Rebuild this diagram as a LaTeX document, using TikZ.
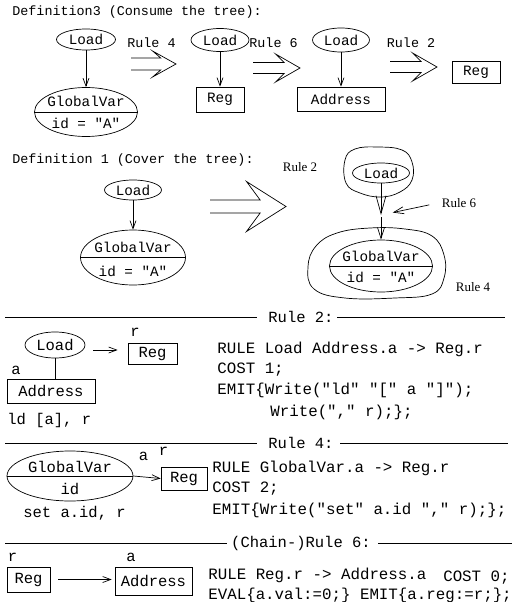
\documentclass[tikz,border=0pt]{standalone}
\usepackage{fontspec}
\setmainfont{Liberation Serif}
\setmonofont{Liberation Mono}
\usetikzlibrary{shapes.geometric,arrows.meta}

% flecha hueca: x0, yc, largo, media cabeza, medio cuerpo
\newcommand{\hollowarrow}[5]{%
  \draw (#1,#2-#5) -- (#1+0.66*#3,#2-#5) -- (#1+0.48*#3,#2-#4) -- (#1+#3,#2)
    -- (#1+0.48*#3,#2+#4) -- (#1+0.66*#3,#2+#5) -- (#1,#2+#5);}

\begin{document}
\begin{tikzpicture}[x=1pt, y=-1pt, line width=0.7pt,
    ovalnd/.style 2 args={ellipse, draw, inner sep=0pt, minimum width=#1pt, minimum height=#2pt},
    boxnd/.style 2 args={rectangle, draw, inner sep=0pt, minimum width=#1pt, minimum height=#2pt},
    treetxt/.style={font=\ttfamily\fontsize{14.3}{16}\selectfont},
    ruletxt/.style={font=\ttfamily\fontsize{15.5}{18}\selectfont},
    codetxt/.style={font=\ttfamily\fontsize{15.8}{18}\selectfont, anchor=west, inner sep=0pt},
    headtxt/.style={font=\ttfamily\fontsize{13.4}{15}\selectfont, anchor=west, inner sep=0pt},
    seriftxt/.style={font=\fontsize{13}{15}\selectfont},
    arr/.style={-{Straight Barb[length=8pt,width=6pt]}}]
            \useasboundingbox (0,0) rectangle (524,602);

            % Definicion 3
            \node[headtxt] (def3) at (12,12) {Definition3 (Consume the tree):};

            % Arbol 1
            \node[ovalnd={59}{21}, treetxt] (ldA) at (86,39.5) {Load};
            \node[ovalnd={103}{49}] (gvA) at (86,112) {};
            \draw (gvA.west) -- (gvA.east);
            \node[treetxt] (gvAtop) at (86,101) {GlobalVar};
            \node[treetxt] (gvAbot) at (86,123) {id = "A"};
            \draw[arr] (ldA) -- (gvA);

            % Arbol 2
            \node[ovalnd={58}{23}, treetxt] (ldB) at (220,40) {Load};
            \node[boxnd={48}{25}, treetxt] (regA) at (220,99.5) {Reg};
            \draw[arr] (ldB) -- (regA);

            % Arbol 3
            \node[ovalnd={57}{24}, treetxt] (ldC) at (341,40) {Load};
            \node[boxnd={88}{24}, treetxt] (addrA) at (341,99) {Address};
            \draw[arr] (ldC) -- (addrA);

            % Resultado
            \node[boxnd={48}{22}, treetxt] (regB) at (476,72) {Reg};

            % Flechas de reglas
            \hollowarrow{131}{64}{45}{13}{6}
            \hollowarrow{253}{68}{47}{14}{5.5}
            \hollowarrow{390}{67}{47}{14}{5.5}
            \node[headtxt, anchor=center] (rA4) at (151.5,43) {Rule 4};
            \node[headtxt, anchor=center] (rA6) at (273.5,43) {Rule 6};
            \node[headtxt, anchor=center] (rA2) at (411,43) {Rule 2};

            % Definicion 1
            \node[headtxt] (def1) at (12,160) {Definition 1 (Cover the tree):};

            % Arbol original
            \node[ovalnd={57}{20}, treetxt] (ldD) at (133,190) {Load};
            \node[ovalnd={105}{55}] (gvB) at (133,257.5) {};
            \draw (gvB.west) -- (gvB.east);
            \node[treetxt] (gvBtop) at (133,247.5) {GlobalVar};
            \node[treetxt] (gvBbot) at (133,271.5) {id = "A"};
            \draw[arr] (ldD) -- (gvB);

            \hollowarrow{210}{206.5}{76}{25}{6.5}

            % Arbol cubierto
            \node[ovalnd={57}{20}, treetxt] (ldE) at (381,173) {Load};
            \node[ovalnd={103}{52}] (gvC) at (381,266) {};
            \draw (gvC.west) -- (gvC.east);
            \node[treetxt] (gvCtop) at (381,256) {GlobalVar};
            \node[treetxt] (gvCbot) at (381,277) {id = "A"};
            \draw plot[smooth cycle, tension=0.7] coordinates {(345,160) (355,149) (378,147)
              (402,150) (412,162) (412,180) (400,192) (381,197) (360,193) (346,183)};
            \draw plot[smooth cycle, tension=0.7] coordinates {(308,267) (316,246) (337,233)
              (370,228) (405,229) (432,236) (444,255) (444,278) (432,294) (395,298) (345,298) (314,289)};
            \coordinate (gapE) at (381,215);
            \draw[-{Straight Barb[length=18pt,width=10pt]}] (ldE) -- (gapE);
            \draw[-{Straight Barb[length=11pt,width=7pt]}] ([yshift=-2pt]gapE) -- (gvC);
            \node[seriftxt] (sR2) at (300,167) {Rule 2};
            \node[seriftxt] (sR6) at (459,203) {Rule 6};
            \node[seriftxt] (sR4) at (473,287) {Rule 4};
            \draw[-{Straight Barb[length=10pt,width=7pt]}, shorten <=9pt, shorten >=12pt] (sR6.west) -- (gapE);

            % Separadores
            \foreach \y/\xb/\xc/\xd/\titulo in {317/257/337/505/Rule 2:, 443/257/340/508/Rule 4:, 543/227/378/512/{(Chain-)Rule 6:}} {
                \draw (5,\y) -- (\xb,\y);
                \node[ruletxt, inner sep=0pt] (sep\y) at (301,\y) {\titulo};
                \draw (\xc,\y) -- (\xd,\y);
            }

            % Regla 2
            \node[ovalnd={60}{26}, ruletxt] (ldF) at (55,345) {Load};
            \node[boxnd={49}{21}, ruletxt] (regC) at (152.5,353.5) {Reg};
            \node[boxnd={88}{24}, ruletxt] (addrB) at (51,391) {Address};
            \draw (ldF.south) -- (ldF.south |- addrB.north);
            \draw[arr] ([shift={(8,5)}]ldF.east) -- ([shift={(-10,-3.5)}]regC.west);
            \node[ruletxt] (r2r) at (135,332) {r};
            \node[ruletxt] (r2a) at (16,370) {a};
            \node[ruletxt, anchor=west, inner sep=0pt] (r2asm) at (7,420) {ld [a], r};
            \node[codetxt] (c2a) at (217,349) {RULE Load Address.a -> Reg.r};
            \node[codetxt] (c2b) at (217,370) {COST 1;};
            \node[codetxt] (c2c) at (217,390) {EMIT\{Write("ld" "[" a "]");};
            \node[codetxt] (c2d) at (270,412) {Write("," r);\};};

            % Regla 4
            \node[ovalnd={126}{50}] (gvD) at (70,476) {};
            \draw (gvD.west) -- (gvD.east);
            \node[ruletxt] (gvDtop) at (70,467) {GlobalVar};
            \node[ruletxt] (gvDbot) at (70,489) {id};
            \node[boxnd={46}{23}, ruletxt] (regD) at (184,478.5) {Reg};
            \draw[arr] (gvD.east) -- (regD.west);
            \node[ruletxt] (r4a) at (143.5,456) {a};
            \node[ruletxt] (r4r) at (163.5,451) {r};
            \node[ruletxt, anchor=west, inner sep=0pt] (r4asm) at (23,513) {set a.id, r};
            \node[codetxt] (c4a) at (212,468) {RULE GlobalVar.a -> Reg.r};
            \node[codetxt] (c4b) at (212,489) {COST 2;};
            \node[codetxt] (c4c) at (212,510) {EMIT\{Write("set" a.id "," r);\};};

            % Regla 6 (cadena)
            \node[boxnd={43}{25}, ruletxt] (regE) at (28.5,579.5) {Reg};
            \node[boxnd={77}{28}, ruletxt] (addrC) at (153.5,581) {Address};
            \draw[arr, shorten <=8pt, shorten >=3pt] (regE.east) -- (regE.east -| addrC.west);
            \node[ruletxt] (r6r) at (12.5,557) {r};
            \node[ruletxt] (r6a) at (131,557) {a};
            \node[codetxt] (c6a) at (208,575) {RULE Reg.r -> Address.a};
            \node[codetxt, anchor=east] (c6b) at (510,578) {COST 0;};
            \node[codetxt] (c6c) at (208,595) {EVAL\{a.val:=0;\} EMIT\{a.reg:=r;\};};
        \end{tikzpicture}
\end{document}
